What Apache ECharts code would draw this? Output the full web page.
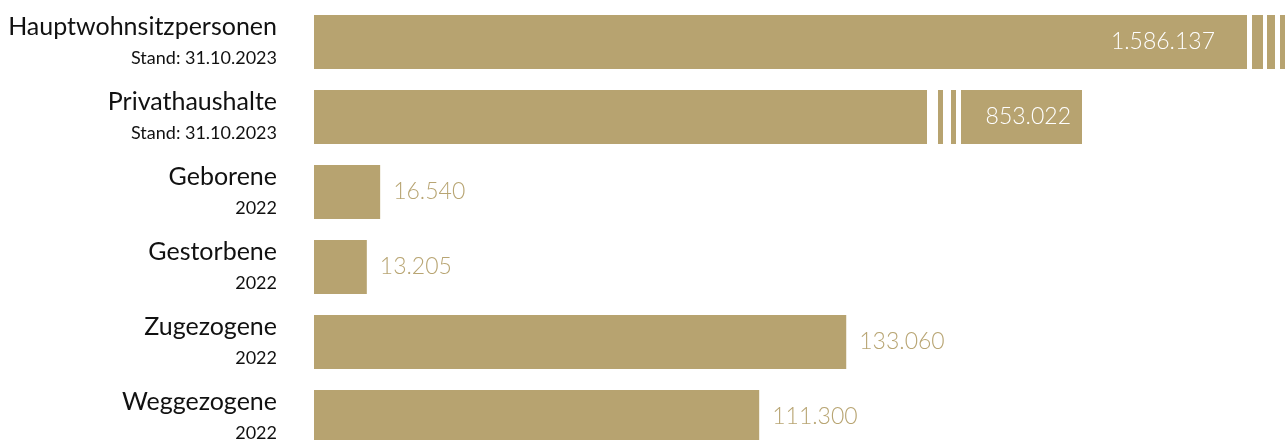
<!DOCTYPE html>
<html>
<head>
<meta charset="utf-8">
<script src="https://cdn.jsdelivr.net/npm/echarts@6/dist/echarts.min.js"></script>
<style>
html,body{margin:0;padding:0;background:#fff;overflow:hidden;height:440px;}
#chart{width:1287px;height:460px;}
</style>
</head>
<body>
<div id="chart"></div>
<script>
// ---- data ----
const categories = ['Hauptwohnsitzpersonen', 'Privathaushalte', 'Geborene', 'Gestorbene', 'Zugezogene', 'Weggezogene'];
const subtitles = ['Stand: 31.10.2023', 'Stand: 31.10.2023', '2022', '2022', '2022', '2022'];
const values = [1586137, 853022, 16540, 13205, 133060, 111300];
// broken bars: axis value where the first visible piece stops, and where the closing piece ends (null = runs off the chart)
const breakAt = [233250, 153250, null, null, null, null];
const shownEnd = [null, 192000, null, null, null, null];

// ---- style ----
const GOLD = '#b7a370';
const LABEL_GOLD = '#b8a573';
const breakStyles = [
  { stripes: [[5, 16], [20, 28], [33, 38]], labelOffset: -32 },
  { stripes: [[11, 16], [24, 29]], blockFrom: 34, labelOffset: -11 }
];

function fmt(n) {
  return String(n).replace(/\B(?=(\d{3})+(?!\d))/g, '.');
}

const chart = echarts.init(document.getElementById('chart'), null, { renderer: 'canvas' });

const seriesData = values.map((v, i) => [i, v]);

const option = {
  animation: false,
  grid: { left: 314, top: 4.5, width: 973, height: 450, containLabel: false },
  xAxis: {
    type: 'value', min: 0, max: 243250,
    show: false
  },
  yAxis: {
    type: 'category', data: categories, inverse: true,
    axisLine: { show: false }, axisTick: { show: false }, splitLine: { show: false },
    axisLabel: {
      margin: 37,
      align: 'right',
      formatter: (val, idx) => '{t|' + val + '}\n{s|' + subtitles[idx] + '}',
      rich: {
        t: { fontFamily: 'Lato', fontSize: 25, color: '#111', lineHeight: 32, align: 'right' },
        s: { fontFamily: 'Lato', fontSize: 18, color: '#111', lineHeight: 30, align: 'right' }
      }
    }
  },
  series: [{
    type: 'custom',
    data: seriesData,
    encode: { x: 1, y: 0 },
    renderItem: function (params, api) {
      const i = api.value(0);
      const v = api.value(1);
      const c0 = api.coord([0, i]);
      const h = api.size([0, 1])[1] * 0.72;
      const y = c0[1] - h / 2;
      const children = [];
      const textFont = { fontFamily: 'Lato', fontSize: 23, fontWeight: 300 };
      if (breakAt[i] == null) {
        const c1 = api.coord([v, i]);
        children.push({ type: 'rect', shape: { x: c0[0], y: y, width: c1[0] - c0[0], height: h }, style: { fill: GOLD } });
        children.push({ type: 'text', style: Object.assign({ text: fmt(v), x: c1[0] + 13, y: c0[1], align: 'left', verticalAlign: 'middle', fill: LABEL_GOLD }, textFont) });
      } else {
        const st = breakStyles[i];
        const xb = api.coord([breakAt[i], i])[0];
        children.push({ type: 'rect', shape: { x: c0[0], y: y, width: xb - c0[0], height: h }, style: { fill: GOLD } });
        st.stripes.forEach(s => {
          children.push({ type: 'rect', shape: { x: xb + s[0], y: y, width: s[1] - s[0], height: h }, style: { fill: GOLD } });
        });
        let labelX;
        if (shownEnd[i] != null) {
          const xe = api.coord([shownEnd[i], i])[0];
          children.push({ type: 'rect', shape: { x: xb + st.blockFrom, y: y, width: xe - xb - st.blockFrom, height: h }, style: { fill: GOLD } });
          labelX = xe + st.labelOffset;
        } else {
          labelX = xb + st.labelOffset;
        }
        children.push({ type: 'text', style: Object.assign({ text: fmt(v), x: labelX, y: c0[1], align: 'right', verticalAlign: 'middle', fill: '#fff' }, textFont) });
      }
      return { type: 'group', children: children };
    }
  }]
};
chart.setOption(option);
</script>
</body>
</html>
